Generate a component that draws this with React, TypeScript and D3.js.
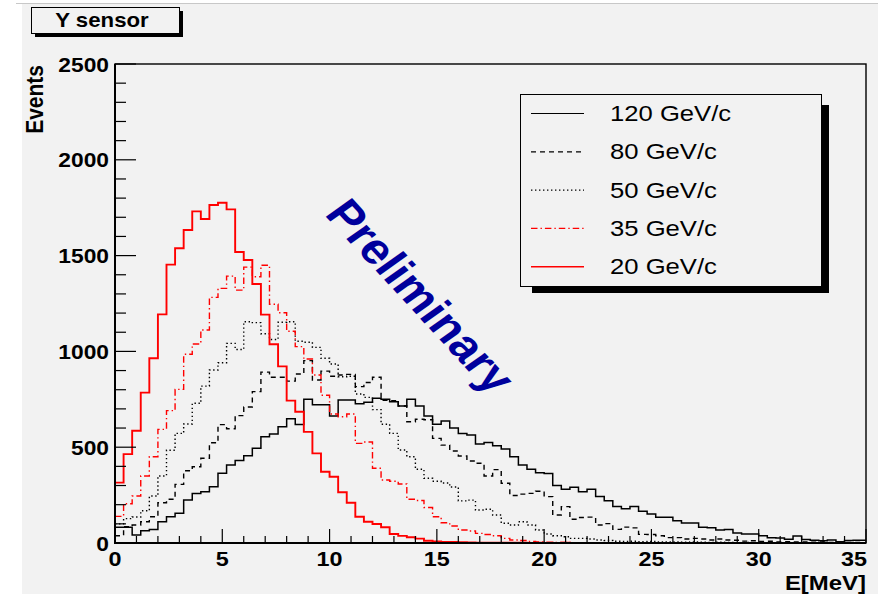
import React from 'react';
import * as d3 from 'd3';

// ---------- data ----------
const BIN_WIDTH = 0.4; // MeV
const labels = ['120 GeV/c', '80 GeV/c', '50 GeV/c', '35 GeV/c', '20 GeV/c'];

const s120 = [82, 82, 42, 64, 71, 111, 137, 155, 224, 259, 268, 294, 364, 407, 430, 455, 494, 555, 569, 607,
  649, 619, 750, 722, 722, 663, 746, 746, 727, 735, 756, 750, 737, 715, 750, 715, 663, 620, 637, 600,
  572, 564, 517, 524, 508, 491, 450, 407, 385, 367, 363, 300, 280, 291, 268, 280, 243, 220, 191, 179,
  190, 166, 151, 134, 134, 116, 105, 105, 82, 79, 68, 71, 52, 47, 47, 38, 28, 26, 20, 37,
  18, 15, 12, 16, 6, 13, 14, 14];

const s80 = [38, 85, 94, 111, 137, 210, 228, 306, 377, 398, 442, 523, 618, 596, 665, 710, 790, 892, 865, 865,
  845, 882, 952, 851, 897, 870, 877, 880, 816, 838, 865, 745, 743, 715, 633, 646, 643, 546, 511, 480,
  454, 428, 416, 350, 383, 312, 248, 255, 259, 270, 242, 146, 190, 124, 133, 135, 94, 101, 71, 83,
  79, 45, 44, 38, 28, 28, 21, 24, 21, 16, 21, 16, 14, 10, 12, 8, 9, 6, 7, 5,
  6, 4, 5, 3, 4, 3, 3, 2];

const s50 = [100, 127, 136, 168, 245, 350, 484, 572, 621, 729, 819, 903, 941, 1042, 1010, 1155, 1150, 1092, 1062, 1152,
  1155, 1053, 1048, 1021, 964, 934, 868, 870, 778, 760, 696, 620, 572, 485, 450, 385, 338, 322, 313, 292,
  220, 224, 172, 176, 146, 103, 94, 111, 94, 68, 47, 38, 33, 24, 24, 21, 16, 13, 9, 8,
  9, 7, 8, 6, 5, 6, 4, 5, 4, 3, 4, 3, 2, 3, 2, 2, 1, 2, 1, 1,
  1, 1, 0, 1, 0, 0, 1, 0];

const s35 = [139, 205, 245, 350, 450, 593, 691, 802, 985, 1039, 1112, 1282, 1329, 1393, 1320, 1440, 1390, 1450, 1246, 1202,
  1105, 1025, 960, 877, 771, 673, 659, 673, 520, 527, 390, 329, 322, 308, 228, 222, 185, 137, 106, 89,
  68, 63, 50, 44, 38, 24, 16, 13, 8, 5, 4, 3, 3, 2, 2, 1, 1, 0, 0, 0,
  0, 0, 0, 0, 0, 0, 0, 0, 0, 0, 0, 0, 0, 0, 0, 0, 0, 0, 0, 0,
  0, 0, 0, 0, 0, 0, 0, 0];

const s20 = [315, 464, 586, 785, 964, 1193, 1453, 1538, 1634, 1731, 1691, 1764, 1776, 1741, 1519, 1477, 1352, 1192, 1037, 922,
  743, 685, 580, 468, 372, 346, 265, 210, 137, 111, 99, 82, 47, 37, 30, 23, 12, 8, 6, 5,
  4, 3, 2, 2, 1, 1, 1, 1, 0, 1, 0, 0, 1, 0, 0, 0, 0, 0, 0, 0,
  0, 0, 0, 0, 0, 0, 0, 0, 0, 0, 0, 0, 0, 0, 0, 0, 0, 0, 0, 0,
  0, 0, 0, 0, 0, 0, 0, 0];

const xTicks = [0, 5, 10, 15, 20, 25, 30, 35];
const yTicks = [0, 500, 1000, 1500, 2000, 2500];

// ---------- layout ----------
const W = 878, H = 594;
const PL = 115, PR = 866, PT = 64, PB = 543;
const SX = 1.14; // horizontal text stretch
const FONT = "'Liberation Sans', Arial, Helvetica, sans-serif";
const BG = '#f2f2f2';

const x = d3.scaleLinear().domain([0, 35]).range([PL, PR]);
const y = d3.scaleLinear().domain([0, 2500]).range([PB, PT]);

const styles = [
  { color: '#000', dash: undefined as string | undefined, width: 1.5 },
  { color: '#000', dash: '5,4', width: 1.4 },
  { color: '#000', dash: '1.4,2.6', width: 1.4 },
  { color: '#ff0000', dash: '6.5,3,1.4,3', width: 1.4 },
  { color: '#ff0000', dash: undefined as string | undefined, width: 1.9 },
];
const seriesValues = [s120, s80, s50, s35, s20];

function histPath(vals: number[]): string {
  const pts: [number, number][] = vals.map((v, i) => [i * BIN_WIDTH, v]);
  pts.push([vals.length * BIN_WIDTH, vals[vals.length - 1]]);
  return d3.line<[number, number]>()
    .x(d => x(d[0]))
    .y(d => y(d[1]))
    .curve(d3.curveStepAfter)(pts) || '';
}

function T(props: { x: number; y: number; rot?: number; anchor?: string; size: number; weight?: string | number; fill?: string; baseline?: string; children: React.ReactNode }) {
  const { x: tx, y: ty, rot, anchor = 'start', size, weight = 'normal', fill = '#000', baseline, children } = props;
  return (
    <g transform={`translate(${tx},${ty}) scale(${SX},1)${rot ? ` rotate(${rot})` : ''}`}>
      <text textAnchor={anchor as any} fontSize={size} fontWeight={weight as any} fill={fill} fontFamily={FONT}
        dominantBaseline={baseline as any}>{children}</text>
    </g>
  );
}

export default function App() {
  const xMinor = d3.range(0, 36, 1);
  const yMinor = d3.range(0, 2501, 100);
  const legX = 520.5, legY = 94.5, legW = 301, legH = 192;
  const rowY = (i: number) => 113.5 + i * 38.3;

  return (
    <svg width={W} height={H} viewBox={`0 0 ${W} ${H}`}
      style={{ position: 'absolute', left: 0, top: 0, display: 'block' }}>
      <rect x={0} y={0} width={W} height={H} fill="#fff" />
      <rect x={22} y={4} width={W - 22} height={H - 4} fill={BG} />
      <line x1={16} x2={W} y1={3.5} y2={3.5} stroke="#c8c8c8" strokeWidth={1} />

      <defs>
        <clipPath id="plotClip">
          <rect x={PL} y={PT - 2} width={PR - PL} height={PB - PT + 2} />
        </clipPath>
      </defs>

      {/* frame */}
      <rect x={PL} y={PT} width={PR - PL} height={PB - PT} fill="none" stroke="#000" strokeWidth={1.4} />

      {/* histograms */}
      <g clipPath="url(#plotClip)">
        {seriesValues.map((vals, i) => (
          <path key={i} d={histPath(vals)} fill="none" stroke={styles[i].color}
            strokeWidth={styles[i].width} strokeDasharray={styles[i].dash} strokeLinejoin="miter" />
        ))}
      </g>

      {/* axes */}
      <line x1={PL} x2={PL} y1={PT} y2={PB + 1} stroke="#000" strokeWidth={2} />
      <line x1={PL - 1} x2={PR} y1={PB} y2={PB} stroke="#000" strokeWidth={2} />

      {yMinor.map(v => (
        <line key={'ym' + v} x1={PL} x2={PL + (v % 500 === 0 ? 21 : 11)} y1={y(v)} y2={y(v)} stroke="#000" strokeWidth={1.2} />
      ))}
      {xMinor.map(v => (
        <line key={'xm' + v} x1={x(v)} x2={x(v)} y1={PB} y2={PB - (v % 5 === 0 ? 14 : 7)} stroke="#000" strokeWidth={1.2} />
      ))}

      {yTicks.map(v => (
        <T key={'yl' + v} x={109} y={y(v) + 7.5} anchor="end" size={20} weight="bold">{v}</T>
      ))}
      {xTicks.map((v, i) => (
        <T key={'xl' + v} x={i === xTicks.length - 1 ? PR + 1 : x(v)} y={566}
          anchor={i === xTicks.length - 1 ? 'end' : 'middle'} size={20.5} weight="bold">{v}</T>
      ))}

      <T x={866} y={590} anchor="end" size={21} weight="bold">E[MeV]</T>
      <T x={43} y={65} rot={-90} anchor="end" size={21} weight="bold">Events</T>

      {/* title box */}
      <rect x={35} y={11} width={148} height={26} fill="#000" />
      <rect x={31.5} y={7.5} width={148} height={26} fill={BG} stroke="#000" strokeWidth={1} />
      <T x={102} y={27} anchor="middle" size={19.5} weight="bold">Y sensor</T>

      {/* legend */}
      <rect x={532} y={105} width={297} height={188} fill="#000" />
      <rect x={legX} y={legY} width={legW} height={legH} fill={BG} stroke="#000" strokeWidth={1} />
      {labels.map((lab, i) => (
        <g key={lab}>
          <line x1={531} x2={584} y1={rowY(i)} y2={rowY(i)} stroke={styles[i].color}
            strokeWidth={i === 4 ? 1.6 : 1.2} strokeDasharray={styles[i].dash} />
          <T x={610} y={rowY(i) + 7.5} size={22.5}>{lab}</T>
        </g>
      ))}

      {/* Preliminary watermark */}
      <T x={421} y={296} rot={51} anchor="middle" size={43} weight="bold" fill="#00009c" baseline="central">Preliminary</T>
    </svg>
  );
}
